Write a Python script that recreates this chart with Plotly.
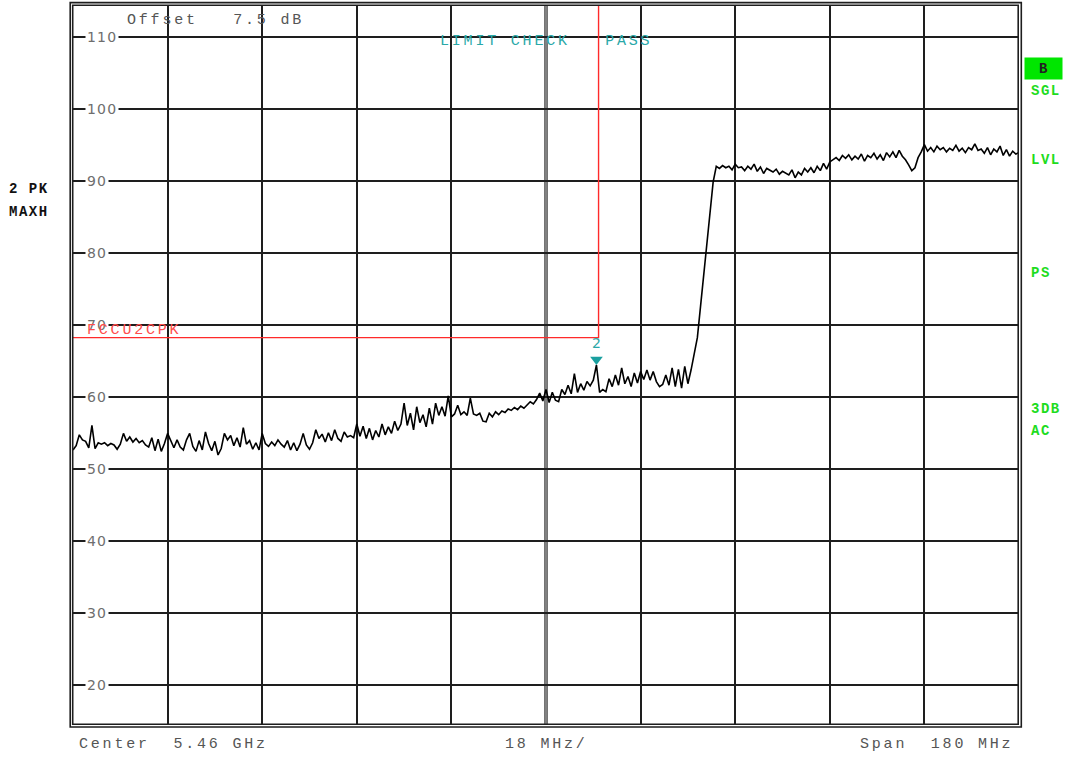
import numpy as np
import plotly.graph_objects as go

# ---------------- data ----------------
start_mhz = 5370.0
stop_mhz = 5550.0
n_points = 301
freq_mhz = np.linspace(start_mhz, stop_mhz, n_points)  # sweep points

level_dbuv = [
    # 5370 - 5424 MHz
    52.6, 53.2, 54.7, 54.0, 53.8, 52.9, 56.0, 52.8, 53.6, 53.4,
    53.6, 53.2, 53.5, 53.3, 52.7, 53.4, 54.9, 53.8, 54.4, 53.7,
    54.2, 53.6, 53.9, 53.3, 53.0, 54.3, 52.5, 54.1, 52.4, 53.5,
    54.9, 53.8, 52.9, 54.0, 53.0, 52.6, 54.0, 54.9, 53.1, 52.4,
    53.9, 52.6, 55.1, 53.5, 52.5, 53.8, 51.9, 52.8, 54.9, 54.0,
    54.6, 53.2, 54.3, 53.0, 55.7, 53.4, 53.9, 52.7, 53.6, 52.6,
    54.9, 53.5, 53.1, 53.7, 53.2, 54.0, 53.4, 53.0, 53.9, 52.6,
    53.6, 52.5, 53.4, 54.9, 53.3, 52.7, 53.6, 55.4, 54.2, 54.8,
    53.7, 55.0, 53.9, 55.4, 54.2, 53.8, 55.1, 54.4, 54.6, 54.3,
    56.2,
    # 5424 - 5460 MHz
    54.5, 55.9, 54.2, 55.6, 54.0, 55.3, 54.4, 56.2, 54.7, 55.8,
    54.9, 56.6, 55.3, 56.2, 59.1, 56.0, 57.7, 55.4, 58.6, 56.4,
    57.5, 55.8, 58.4, 56.2, 59.1, 57.4, 58.6, 57.3, 60.1, 57.2,
    57.6, 58.8, 57.5, 57.9, 57.4, 59.8, 57.6, 57.4, 57.7, 56.6,
    56.5, 57.7, 57.2, 57.9, 57.5, 58.0, 57.8, 58.3, 58.1, 58.5,
    58.2, 58.7, 58.4, 58.9, 59.3, 59.0, 59.6, 60.5, 59.4, 61.0,
    # 5460 - 5488 MHz
    59.2, 60.6, 59.5, 59.3, 61.0, 60.3, 61.6, 60.4, 63.2, 60.6,
    61.8, 60.9, 62.1, 61.5, 62.3, 64.4, 60.6, 61.0, 60.7, 62.5,
    61.4, 63.0, 61.6, 64.0, 61.8, 62.8, 61.4, 63.3, 61.9, 63.5,
    62.4, 63.7, 62.3, 63.5, 62.1, 61.4, 61.7, 63.0, 61.6, 64.0,
    61.4, 63.8, 61.2, 64.2, 61.8, 63.7,
    # band edge rise
    65.8, 68.2, 72.5, 77.0, 81.5, 85.5, 89.8, 92.0, 91.7,
    # 5494 - 5514 MHz
    92.1, 91.8, 92.0, 91.5, 92.3, 91.8, 91.9, 91.4, 92.0, 91.6,
    92.3, 91.3, 91.9, 91.0, 91.7, 91.4, 91.2, 91.6, 90.9, 91.3,
    91.0, 90.8, 91.5, 90.4, 91.2, 90.8, 91.7, 91.2, 91.8, 91.1,
    92.0, 91.4, 92.4, 91.6, 92.6,
    # 5515 - 5550 MHz
    92.9, 93.2, 92.8, 93.5, 93.1, 93.6, 92.9, 93.4, 93.0, 93.7,
    92.7, 93.5, 93.2, 93.8, 93.0, 93.6, 92.8, 93.9, 93.3, 94.0,
    93.2, 94.2, 93.4, 92.9, 92.2, 91.4, 91.8, 93.2, 94.0, 95.0,
    94.1, 94.6, 94.0, 94.8, 94.3, 94.6, 94.0, 94.5, 94.2, 94.9,
    94.1, 94.5, 93.9, 94.6, 94.3, 95.1, 94.2, 94.4, 93.8, 94.6,
    93.6, 94.4, 94.0, 94.8, 93.5, 94.3, 93.4, 94.1, 93.7, 93.9,
]

limit_name = "FCCU2CPK"
limit_level = 68.2
limit_edge_mhz = 5470.0

marker_label = "2"
marker_freq_mhz = 5469.6
marker_level = 64.4

y_min, y_max = 14.4, 114.4
y_ticks = [20, 30, 40, 50, 60, 70, 80, 90, 100, 110]
x_grid_mhz = [5388, 5406, 5424, 5442, 5478, 5496, 5514, 5532]
center_mhz = 5460.0

header_offset = "Offset   7.5 dB"
limit_check = "LIMIT CHECK   PASS"
bottom_left = "Center  5.46 GHz"
bottom_mid = "18 MHz/"
bottom_right = "Span  180 MHz"
left_labels = ["2 PK", "MAXH"]
right_labels = ["SGL", "LVL", "PS", "3DB", "AC"]

# ---------------- layout geometry (pixels) ----------------
W, H = 1065, 759
PL, PR, PT, PB = 73, 1019, 5, 725


def px(xp):
    return (xp - PL) / (PR - PL)


def py(yp):
    return (PB - yp) / (PB - PT)


def nb(s):
    return s.replace(" ", "\u00a0")


def spaced(s, sp):
    return f'<span style="letter-spacing:{sp}px">{nb(s)}</span>'


MONO = "Liberation Mono"
GRID = "#1e1e1e"
TEAL = "#2aa8a8"
RED = "#ff2a2a"
GREEN = "#1edc1e"

fig = go.Figure()

# trace
fig.add_trace(go.Scatter(
    x=freq_mhz, y=level_dbuv, mode="lines",
    line=dict(color="black", width=1.6), hoverinfo="skip"))

# limit line
fig.add_trace(go.Scatter(
    x=[start_mhz, limit_edge_mhz, limit_edge_mhz],
    y=[limit_level, limit_level, y_max],
    mode="lines", line=dict(color=RED, width=1.4), hoverinfo="skip"))

# marker
fig.add_trace(go.Scatter(
    x=[marker_freq_mhz], y=[marker_level + 0.75],
    mode="markers", marker=dict(symbol="triangle-down", size=11, color="#1a9f9f"),
    hoverinfo="skip"))

fig.update_xaxes(range=[start_mhz, stop_mhz], tickvals=x_grid_mhz,
                 showgrid=True, gridcolor=GRID, gridwidth=1.5,
                 showticklabels=False, zeroline=False, showline=False, ticks="")
fig.update_yaxes(range=[y_min, y_max], tickvals=y_ticks,
                 showgrid=True, gridcolor=GRID, gridwidth=1.5,
                 showticklabels=False, zeroline=False, showline=False, ticks="")

shapes = []
# double frame
for (x0, x1, y0, y1) in [(72.7, 1018.2, 5.2, 724.2), (70.2, 1021.3, 2.6, 727.0)]:
    shapes.append(dict(type="rect", xref="paper", yref="paper",
                       x0=px(x0), x1=px(x1), y0=py(y1), y1=py(y0),
                       line=dict(color=GRID, width=1.6), layer="above"))
# double centre line
shapes.append(dict(type="line", xref="x", yref="paper", x0=center_mhz, x1=center_mhz,
                   y0=0, y1=1, line=dict(color="#3a3a3a", width=3.4), layer="below"))
shapes.append(dict(type="line", xref="x", yref="paper", x0=center_mhz, x1=center_mhz,
                   y0=0, y1=1, line=dict(color="#c8c8c8", width=1.0), layer="below"))

ann = []
# y labels inside plot
for v in y_ticks:
    ann.append(dict(xref="paper", yref="y", x=px(85), y=v, xanchor="left", yanchor="middle",
                    text=spaced(str(v), 1.2), showarrow=False, bgcolor="white", borderpad=1,
                    font=dict(family="DejaVu Sans", size=14, color="#6e6e6e")))

ann.append(dict(xref="paper", yref="paper", x=px(125), y=py(20), xanchor="left", yanchor="middle",
                text=spaced(header_offset, 2.8), showarrow=False,
                font=dict(family=MONO, size=15, color="#555555")))
ann.append(dict(xref="paper", yref="paper", x=px(438), y=py(41), xanchor="left", yanchor="middle",
                text=spaced(limit_check, 2.8), showarrow=False,
                font=dict(family=MONO, size=15, color=TEAL)))
ann.append(dict(xref="paper", yref="y", x=px(85), y=limit_level, xanchor="left", yanchor="bottom",
                yshift=-3, text=spaced(limit_name, 2.8), showarrow=False,
                font=dict(family=MONO, size=15, color="#ff4c4c")))
ann.append(dict(xref="x", yref="y", x=marker_freq_mhz, y=marker_level + 0.75, yshift=17,
                text=marker_label, showarrow=False,
                font=dict(family="DejaVu Sans", size=14, color=TEAL)))

ann.append(dict(xref="paper", yref="paper", x=px(77), y=py(745), xanchor="left", yanchor="middle",
                text=spaced(bottom_left, 2.8), showarrow=False,
                font=dict(family=MONO, size=15, color="#555555")))
ann.append(dict(xref="paper", yref="paper", x=px(546), y=py(745), xanchor="center", yanchor="middle",
                text=spaced(bottom_mid, 2.8), showarrow=False,
                font=dict(family=MONO, size=15, color="#555555")))
ann.append(dict(xref="paper", yref="paper", x=px(1015), y=py(745), xanchor="right", yanchor="middle",
                text=spaced(bottom_right, 2.8), showarrow=False,
                font=dict(family=MONO, size=15, color="#555555")))

for lab, yy in zip(left_labels, [189, 212]):
    ann.append(dict(xref="paper", yref="paper", x=px(29), y=py(yy), xanchor="center", yanchor="middle",
                    text="<b>" + spaced(lab, 1.5) + "</b>", showarrow=False,
                    font=dict(family=MONO, size=14, color="#111111")))

ann.append(dict(xref="paper", yref="paper", x=px(1043), y=py(68), xanchor="center", yanchor="middle",
                text="<b>B</b>", showarrow=False, bgcolor="#00e600", width=35, height=19,
                font=dict(family=MONO, size=14, color="#222222")))
for lab, yy in zip(right_labels, [91, 160, 273, 409, 431]):
    ann.append(dict(xref="paper", yref="paper", x=px(1029), y=py(yy), xanchor="left", yanchor="middle",
                    text="<b>" + spaced(lab, 1.5) + "</b>", showarrow=False,
                    font=dict(family=MONO, size=14, color=GREEN)))

fig.update_layout(width=W, height=H, margin=dict(l=PL, r=W - PR, t=PT, b=H - PB),
                  paper_bgcolor="white", plot_bgcolor="white", showlegend=False,
                  shapes=shapes, annotations=ann)

fig.write_html("out.html", config={"displayModeBar": False},
               post_script="document.body.style.margin='0';document.body.style.overflow='hidden';")
